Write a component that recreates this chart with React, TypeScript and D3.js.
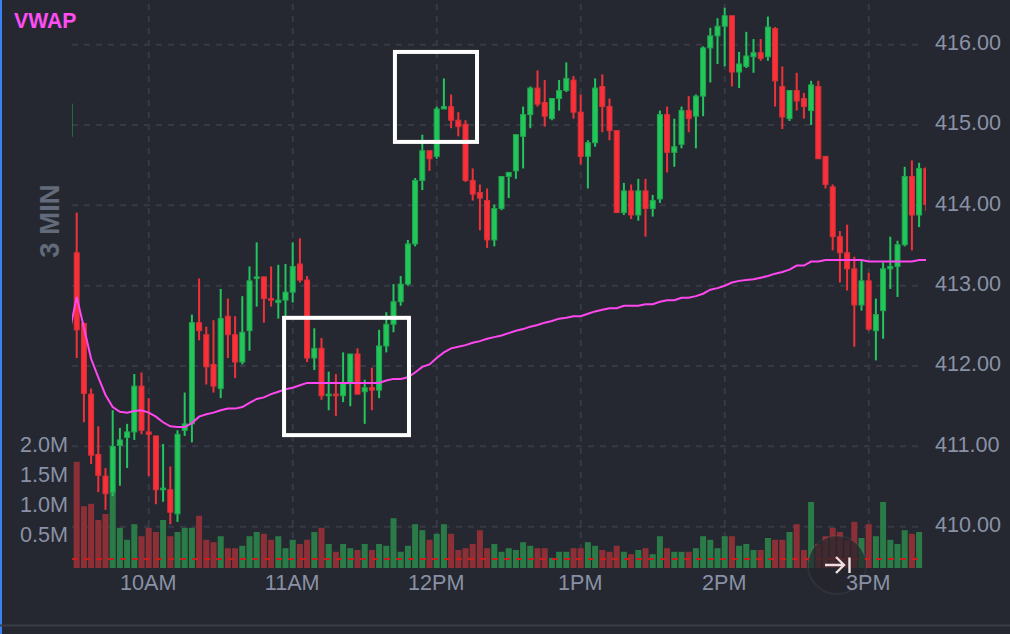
import React, { useEffect, useRef } from 'react';
import * as d3 from 'd3';

// one 3 minute candle per entry, first entry is the last bar of the previous session (index -1)
const opens = [414.86,
  413.41, 412.53, 411.65, 410.90, 410.63, 410.43, 411.01, 411.11, 411.18, 411.75,
  411.18, 411.13, 410.46, 410.46, 410.16, 411.20, 411.28, 412.54, 412.39, 412.02,
  411.72, 412.62, 412.39, 412.05, 412.44, 413.09, 413.11, 412.84, 412.79, 412.82,
  412.92, 413.27, 413.07, 412.10, 412.22, 411.63, 411.65, 411.63, 411.78, 412.15,
  411.68, 411.73, 411.70, 412.25, 412.52, 412.80, 413.02, 413.52, 414.31, 414.68,
  414.61, 415.20, 415.23, 415.06, 415.01, 414.31, 414.16, 414.06, 413.57, 413.96,
  414.36, 414.43, 414.86, 415.13, 415.46, 415.28, 415.08, 415.33, 415.43, 415.56,
  415.16, 414.61, 414.78, 415.48, 415.23, 414.93, 413.91, 414.18, 413.88, 414.18,
  413.96, 414.08, 415.13, 414.66, 414.76, 415.18, 415.11, 415.36, 415.96, 416.11,
  416.23, 416.36, 415.66, 415.73, 415.85, 415.90, 415.85, 416.20, 415.48, 415.08,
  415.43, 415.33, 415.18, 415.48, 414.61, 414.23, 413.61, 413.41, 413.21, 412.76,
  413.06, 412.44, 412.69, 413.21, 413.24, 413.51, 414.36, 413.88, 414.46];

const closes = [415.26,
  412.45, 411.66, 410.89, 410.64, 410.41, 411.00, 411.08, 411.18, 411.75, 411.20,
  411.15, 410.46, 410.48, 410.18, 411.15, 411.28, 412.54, 412.44, 411.99, 411.75,
  412.59, 412.39, 412.05, 412.42, 413.06, 413.11, 412.84, 412.82, 412.82, 412.92,
  413.24, 413.07, 412.10, 412.22, 411.63, 411.65, 411.63, 411.78, 412.15, 411.65,
  411.73, 411.70, 412.25, 412.52, 412.80, 413.02, 413.52, 414.31, 414.68, 414.58,
  415.20, 415.23, 415.06, 414.98, 414.31, 414.14, 414.09, 413.57, 413.96, 414.36,
  414.41, 414.88, 415.13, 415.46, 415.26, 415.11, 415.33, 415.43, 415.58, 415.16,
  414.61, 414.78, 415.46, 415.23, 414.93, 413.91, 414.18, 413.88, 414.18, 413.96,
  414.06, 415.13, 414.66, 414.73, 415.18, 415.08, 415.36, 415.96, 416.11, 416.23,
  416.36, 415.66, 415.76, 415.86, 415.90, 415.83, 416.22, 415.55, 415.10, 415.43,
  415.30, 415.23, 415.50, 414.58, 414.26, 413.61, 413.41, 413.21, 412.76, 413.06,
  412.46, 412.64, 413.21, 413.24, 413.51, 414.36, 413.88, 414.46, 414.01];

const highs = [415.26,
  413.91, 412.54, 411.72, 411.25, 410.73, 411.45, 411.23, 411.28, 411.90, 411.92,
  411.60, 411.13, 411.03, 410.75, 411.20, 411.67, 412.64, 413.09, 412.49, 412.57,
  412.96, 412.84, 412.62, 412.87, 413.24, 413.54, 413.11, 413.24, 413.26, 413.27,
  413.54, 413.59, 413.12, 412.47, 412.35, 411.93, 411.90, 412.17, 412.15, 412.22,
  411.83, 411.98, 412.45, 412.67, 413.02, 413.12, 413.57, 414.34, 414.88, 414.68,
  415.23, 415.58, 415.38, 415.16, 415.06, 414.46, 414.26, 414.21, 414.01, 414.36,
  414.41, 414.88, 415.23, 415.48, 415.68, 415.56, 415.33, 415.56, 415.78, 415.61,
  415.38, 414.81, 415.58, 415.63, 415.33, 414.93, 414.28, 414.26, 414.33, 414.33,
  414.13, 415.18, 415.23, 415.08, 415.23, 415.36, 415.38, 415.98, 416.21, 416.33,
  416.46, 416.36, 415.91, 416.16, 416.07, 416.07, 416.35, 416.22, 415.73, 415.43,
  415.65, 415.40, 415.55, 415.55, 414.61, 414.26, 413.68, 413.76, 413.36, 413.31,
  413.16, 412.84, 413.29, 413.61, 413.56, 414.48, 414.56, 414.53, 414.48];

const lows = [414.86,
  412.10, 411.30, 410.78, 410.43, 410.21, 410.38, 410.51, 410.73, 411.08, 411.15,
  410.63, 410.28, 410.31, 410.03, 410.06, 411.13, 411.05, 412.32, 411.77, 411.67,
  411.60, 412.10, 411.85, 412.02, 412.19, 412.74, 412.54, 412.74, 412.59, 412.59,
  412.79, 413.04, 412.05, 411.95, 411.58, 411.45, 411.38, 411.55, 411.50, 411.65,
  411.28, 411.45, 411.60, 412.17, 412.42, 412.75, 413.00, 413.49, 414.19, 414.43,
  414.58, 415.20, 414.96, 414.86, 414.29, 414.06, 413.69, 413.47, 413.49, 413.94,
  414.09, 414.33, 414.46, 414.96, 415.23, 414.98, 415.06, 415.18, 415.41, 415.08,
  414.51, 414.21, 414.73, 414.91, 414.81, 413.91, 413.88, 413.83, 413.81, 413.61,
  413.86, 414.03, 414.41, 414.48, 414.71, 414.91, 414.71, 415.11, 415.53, 415.76,
  415.73, 415.48, 415.46, 415.71, 415.65, 415.80, 415.80, 415.23, 414.95, 415.05,
  415.18, 415.08, 415.00, 414.58, 414.21, 413.44, 413.04, 412.94, 412.24, 412.69,
  412.44, 412.07, 412.34, 412.96, 412.86, 413.49, 413.44, 413.73, 413.93];

// volume in millions
const volumes = [0,
  1.77, 1.03, 1.07, 0.80, 0.90, 1.27, 0.67, 0.47, 0.73, 0.53,
  0.67, 0.60, 0.80, 0.53, 0.60, 0.67, 0.67, 0.87, 0.47, 0.43,
  0.53, 0.33, 0.33, 0.37, 0.53, 0.60, 0.57, 0.47, 0.53, 0.33,
  0.47, 0.40, 0.47, 0.60, 0.67, 0.40, 0.27, 0.40, 0.33, 0.30,
  0.40, 0.30, 0.40, 0.37, 0.83, 0.27, 0.37, 0.73, 0.63, 0.47,
  0.57, 0.73, 0.57, 0.30, 0.33, 0.40, 0.63, 0.33, 0.40, 0.27,
  0.33, 0.30, 0.43, 0.37, 0.33, 0.33, 0.17, 0.27, 0.27, 0.33,
  0.33, 0.43, 0.37, 0.30, 0.27, 0.37, 0.27, 0.23, 0.30, 0.33,
  0.23, 0.53, 0.33, 0.27, 0.27, 0.27, 0.33, 0.53, 0.47, 0.33,
  0.53, 0.53, 0.37, 0.40, 0.30, 0.30, 0.50, 0.47, 0.47, 0.60,
  0.73, 0.30, 1.10, 0.40, 0.53, 0.67, 0.60, 0.47, 0.77, 0.50,
  0.73, 0.53, 1.10, 0.47, 0.40, 0.63, 0.57, 0.60, 0];

const vwap = [412.42,
  412.86, 412.48, 412.09, 411.86, 411.64, 411.49, 411.43, 411.42, 411.44, 411.45,
  411.42, 411.37, 411.30, 411.25, 411.24, 411.24, 411.29, 411.37, 411.40, 411.42,
  411.45, 411.47, 411.47, 411.49, 411.54, 411.59, 411.61, 411.65, 411.68, 411.71,
  411.73, 411.76, 411.79, 411.79, 411.79, 411.79, 411.79, 411.79, 411.79, 411.79,
  411.79, 411.79, 411.79, 411.82, 411.84, 411.84, 411.86, 411.92, 411.99, 412.02,
  412.10, 412.17, 412.22, 412.24, 412.26, 412.29, 412.31, 412.34, 412.36, 412.38,
  412.41, 412.44, 412.46, 412.49, 412.51, 412.54, 412.56, 412.59, 412.60, 412.62,
  412.62, 412.65, 412.68, 412.70, 412.72, 412.72, 412.75, 412.75, 412.75, 412.77,
  412.77, 412.80, 412.82, 412.82, 412.85, 412.85, 412.87, 412.90, 412.95, 412.97,
  413.00, 413.04, 413.06, 413.07, 413.08, 413.10, 413.12, 413.15, 413.17, 413.20,
  413.25, 413.25, 413.30, 413.30, 413.32, 413.32, 413.32, 413.32, 413.32, 413.32,
  413.30, 413.30, 413.30, 413.30, 413.30, 413.30, 413.30, 413.32, 413.32];

const priceTicks = [416, 415, 414, 413, 412, 411, 410];
const volumeTicks = [2, 1.5, 1, 0.5];
const timeTicks = [10, 30, 50, 70, 90, 110];
const timeLabels = ['10AM', '11AM', '12PM', '1PM', '2PM', '3PM'];
const averageVolume = 0.15;

// highlighted zones: candle index range and price range
const zoneFrom = [28.8, 44.2];
const zoneTo = [46.15, 55.6];
const zoneTop = [412.6, 415.91];
const zoneBottom = [411.14, 414.79];

const WIDTH = 1010;
const HEIGHT = 634;
const BG = '#252830';
const GRID = '#373a44';
const LABEL = '#8a91a6';
const FONT = '"Liberation Sans", Arial, sans-serif';

export default function App() {
  const ref = useRef<SVGSVGElement>(null);

  useEffect(() => {
    if (!ref.current) return;
    const svg = d3.select(ref.current);
    svg.selectAll('*').remove();

    const indexes = opens.map((_, i) => i - 1);
    const x = d3.scaleLinear().domain([-1, 118]).range([69.5, 926.3]);
    const y = d3.scaleLinear().domain([416, 410]).range([44.7, 526.7]);
    const v = d3.scaleLinear().domain([0, 2]).range([568, 448]);

    const clipLeft = 72;
    const clipRight = 926;
    const gridRight = 918;

    svg.append('defs').append('clipPath').attr('id', 'plot')
      .append('rect').attr('x', clipLeft).attr('y', 0).attr('width', clipRight - clipLeft).attr('height', 568);

    svg.append('rect').attr('width', WIDTH).attr('height', HEIGHT).attr('fill', BG);
    svg.append('rect').attr('width', 2).attr('height', HEIGHT).attr('fill', '#3b82f6');
    svg.append('rect').attr('x', 0).attr('y', 624.5).attr('width', WIDTH).attr('height', 2).attr('fill', '#3a3d47');

    // grid
    svg.append('g').selectAll('line').data(priceTicks).enter().append('line')
      .attr('x1', clipLeft).attr('x2', gridRight)
      .attr('y1', d => y(d)).attr('y2', d => y(d))
      .attr('stroke', GRID).attr('stroke-width', 2).attr('stroke-dasharray', '6 6');

    svg.append('g').selectAll('line').data(timeTicks).enter().append('line')
      .attr('x1', d => x(d)).attr('x2', d => x(d))
      .attr('y1', 4).attr('y2', 568)
      .attr('stroke', GRID).attr('stroke-width', 2).attr('stroke-dasharray', '6 6');

    const plot = svg.append('g').attr('clip-path', 'url(#plot)');
    const isUp = (i: number) => closes[i + 1] >= opens[i + 1];

    // volume
    plot.append('g').selectAll('rect').data(indexes.filter(i => volumes[i + 1] > 0)).enter().append('rect')
      .attr('x', i => x(i) - 3)
      .attr('y', i => v(volumes[i + 1]))
      .attr('width', 6)
      .attr('height', i => v(0) - v(volumes[i + 1]))
      .attr('fill', i => isUp(i) ? '#2a7b47' : '#8d2f36');

    svg.append('line')
      .attr('x1', clipLeft).attr('x2', gridRight)
      .attr('y1', v(averageVolume)).attr('y2', v(averageVolume))
      .attr('stroke', '#c8201f').attr('stroke-width', 2).attr('stroke-dasharray', '6 6');

    // wicks
    plot.append('g').selectAll('line').data(indexes).enter().append('line')
      .attr('x1', i => x(i)).attr('x2', i => x(i))
      .attr('y1', i => y(highs[i + 1])).attr('y2', i => y(lows[i + 1]))
      .attr('stroke', i => isUp(i) ? '#22c55e' : '#f1313a')
      .attr('stroke-width', 2);

    // bodies
    plot.append('g').selectAll('rect').data(indexes).enter().append('rect')
      .attr('x', i => x(i) - 2.5)
      .attr('y', i => Math.min(y(opens[i + 1]), y(closes[i + 1])))
      .attr('width', 5)
      .attr('height', i => Math.max(1, Math.abs(y(opens[i + 1]) - y(closes[i + 1]))))
      .attr('fill', i => isUp(i) ? '#22c75a' : '#fb2f38')
      .attr('stroke', i => isUp(i) ? '#22a650' : '#d6323a')
      .attr('stroke-width', 1);

    // vwap
    const line = d3.line<number>().x((_, i) => x(i - 1)).y(d => y(d));
    plot.append('path')
      .attr('d', line(vwap)!)
      .attr('fill', 'none')
      .attr('stroke', '#ff47f0')
      .attr('stroke-width', 2);

    // highlighted zones
    svg.append('g').selectAll('rect').data(zoneFrom).enter().append('rect')
      .attr('x', (_, i) => x(zoneFrom[i]))
      .attr('y', (_, i) => y(zoneTop[i]))
      .attr('width', (_, i) => x(zoneTo[i]) - x(zoneFrom[i]))
      .attr('height', (_, i) => y(zoneBottom[i]) - y(zoneTop[i]))
      .attr('fill', 'none')
      .attr('stroke', '#ffffff')
      .attr('stroke-width', 4);

    // jump to latest button, sits under the time labels
    const button = svg.append('g').attr('transform', 'translate(837,565)');
    button.append('circle').attr('r', 29)
      .attr('fill', 'rgba(38,38,44,0.72)')
      .attr('stroke', 'rgba(255,255,255,0.05)')
      .attr('stroke-width', 2);
    button.append('path')
      .attr('d', 'M-12,0H7M-1,-8L7,0L-1,8')
      .attr('fill', 'none').attr('stroke', '#f1dede').attr('stroke-width', 2.4);
    button.append('line')
      .attr('x1', 12.5).attr('x2', 12.5).attr('y1', -7.5).attr('y2', 8)
      .attr('stroke', '#f1dede').attr('stroke-width', 2.4);

    // axes
    const styleAxis = (g: any, size: number) => {
      g.select('.domain').remove();
      g.selectAll('text')
        .attr('fill', LABEL)
        .style('font-family', FONT)
        .style('font-size', `${size}px`);
    };

    svg.append('g')
      .attr('transform', 'translate(935,-2)')
      .call(d3.axisRight(y).tickValues(priceTicks).tickFormat(d3.format('.2f') as any).tickSize(0).tickPadding(0))
      .call(g => styleAxis(g, 21.6));

    svg.append('g')
      .attr('transform', 'translate(68,-3)')
      .call(d3.axisLeft(v).tickValues(volumeTicks).tickFormat(d => `${d3.format('.1f')(d as number)}M`).tickSize(0).tickPadding(0))
      .call(g => styleAxis(g, 21.6));

    const bottomAxis = d3.scaleOrdinal<number, string>().domain(timeTicks).range(timeLabels);
    svg.append('g')
      .attr('transform', 'translate(-1,575)')
      .call(d3.axisBottom(x).tickValues(timeTicks).tickFormat(d => bottomAxis(d as number)).tickSize(0).tickPadding(0))
      .call(g => styleAxis(g, 21.6));

    // labels
    svg.append('text').attr('x', 14).attr('y', 28)
      .attr('fill', '#ff4df5')
      .style('font-family', FONT).style('font-size', '21.2px').style('font-weight', 700)
      .text('VWAP');

    svg.append('text')
      .attr('transform', 'translate(58.5,221) rotate(-90)')
      .attr('text-anchor', 'middle')
      .attr('fill', '#636a79')
      .style('font-family', FONT).style('font-size', '27.5px').style('font-weight', 700)
      .text('3 MIN');
  }, []);

  return (
    <div style={{ position: 'fixed', left: 0, top: 0, width: WIDTH, height: HEIGHT, background: BG }}>
      <svg ref={ref} width={WIDTH} height={HEIGHT} style={{ display: 'block' }} />
    </div>
  );
}
